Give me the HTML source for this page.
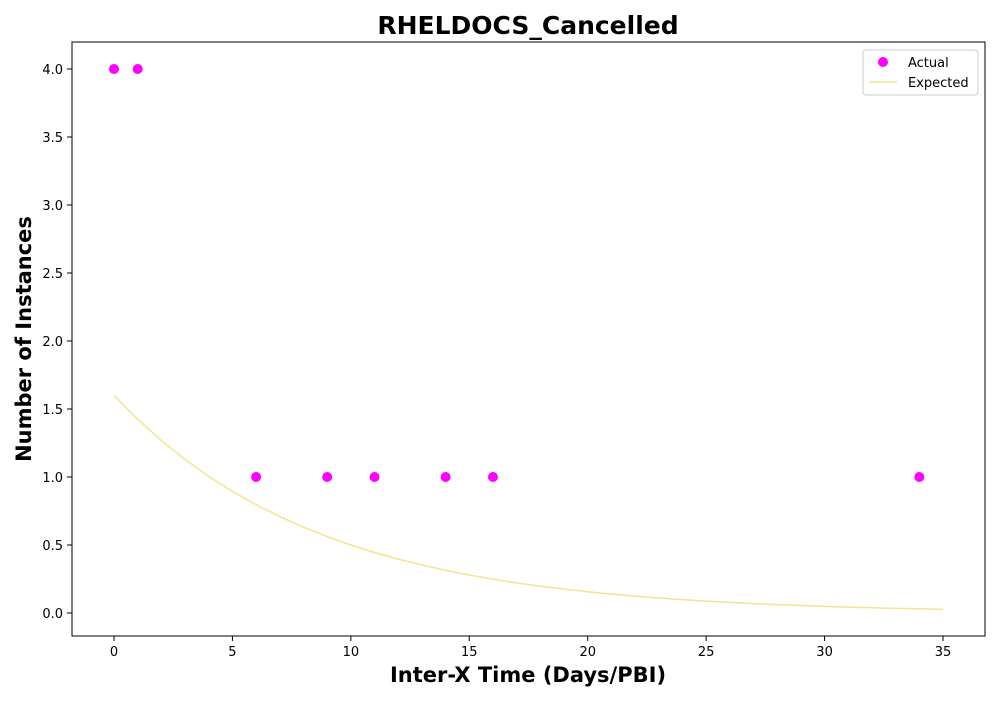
<!DOCTYPE html>
<html><head><meta charset="utf-8"><style>
body{margin:0;background:#fff;font-family:"Liberation Sans","DejaVu Sans",sans-serif;}
svg text{font-family:"DejaVu Sans","Liberation Sans",sans-serif;}
</style></head><body>
<svg id="chart" width="1000" height="700" xmlns="http://www.w3.org/2000/svg">
<text x="528" y="34" text-anchor="middle" font-size="25" font-weight="bold">RHELDOCS_Cancelled</text>
<text x="528" y="682" text-anchor="middle" font-size="21" font-weight="bold">Inter-X Time (Days/PBI)</text>
<text transform="translate(31,339) rotate(-90)" text-anchor="middle" font-size="21" font-weight="bold">Number of Instances</text>
<g id="ticks"></g>
<g id="marks"></g>
<rect x="72" y="42" width="913" height="594" fill="none" stroke="#000" stroke-width="1"/>
<g>
<rect x="863" y="50" width="115" height="45" rx="3" fill="#fff" stroke="#ccc"/>
<circle cx="883" cy="62" r="5" fill="#ff00ff"/>
<text x="908" y="67" font-size="13">Actual</text>
<line x1="869" y1="82" x2="897" y2="82" stroke="#f0e68c" stroke-width="1.5"/>
<text x="908" y="87" font-size="13">Expected</text>
</g>
</svg>
<script>
const actualX=[0,1,6,9,11,14,16,34];
const actualY=[4,4,1,1,1,1,1,1];
const expectedX=[0,1,2,3,4,5,6,7,8,9,10,11,12,13,14,15,16,17,18,19,20,21,22,23,24,25,26,27,28,29,30,31,32,33,34,35];
const expectedY=[1.6,1.424,1.268,1.129,1.005,0.894,0.796,0.709,0.631,0.562,0.5,0.445,0.396,0.353,0.314,0.279,0.249,0.221,0.197,0.176,0.156,0.139,0.124,0.110,0.098,0.087,0.078,0.069,0.062,0.055,0.049,0.043,0.039,0.034,0.031,0.027];
const xTicks=[0,5,10,15,20,25,30,35];
const yTicks=[0,0.5,1,1.5,2,2.5,3,3.5,4];
const NS="http://www.w3.org/2000/svg";
const sx=v=>114+v*(943-114)/35;
const sy=v=>613-v*(613-69)/4;
const tg=document.getElementById('ticks'), mg=document.getElementById('marks');
function mk(t,a,p){const e=document.createElementNS(NS,t);for(const k in a)e.setAttribute(k,a[k]);p.appendChild(e);return e;}
xTicks.forEach(v=>{
 const l=mk('line',{x1:sx(v),x2:sx(v),y1:636,y2:641,stroke:'#000'},tg);
 
 
 const t=mk('text',{x:sx(v),y:656,'text-anchor':'middle','font-size':13},tg);t.textContent=v;
 
 
});
yTicks.forEach(v=>{
 const l=mk('line',{x1:67,x2:72,y1:sy(v),y2:sy(v),stroke:'#000'},tg);
 
 
 const t=mk('text',{x:63,y:sy(v)+5,'text-anchor':'end','font-size':13},tg);t.textContent=v.toFixed(1);
 
 
});
const pl=mk('polyline',{points:expectedX.map((x,i)=>sx(x)+','+sy(expectedY[i])).join(' '),fill:'none',stroke:'#f0e68c','stroke-width':1.5},mg);


actualX.forEach((x,i)=>{
 const c=mk('circle',{cx:sx(x),cy:sy(actualY[i]),r:5,fill:'#ff00ff'},mg);
 
 
});
</script>
</body></html>
